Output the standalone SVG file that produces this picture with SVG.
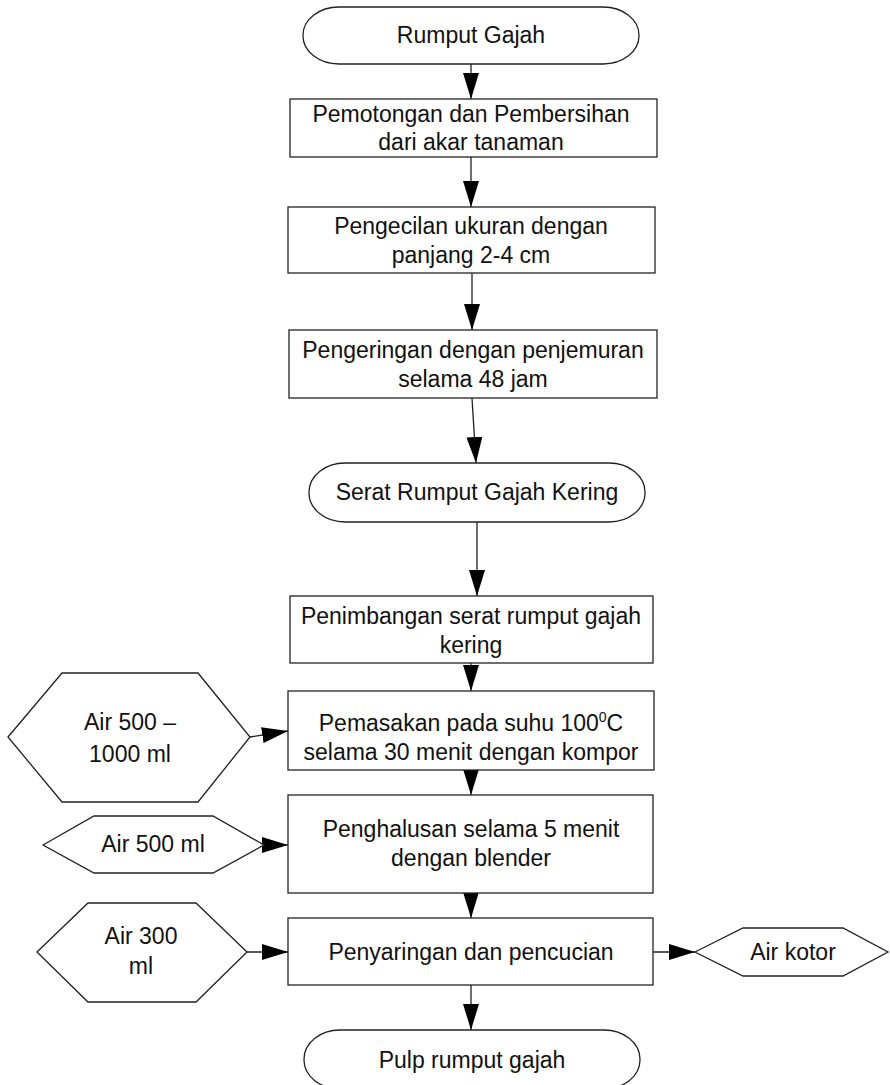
<svg xmlns="http://www.w3.org/2000/svg" width="890" height="1085" viewBox="0 0 890 1085">
<style>
.s{fill:#fff;stroke:#222;stroke-width:1.3}
.t{font-family:"Liberation Sans",Arial,sans-serif;font-size:23px;fill:#111;text-anchor:middle}
.c{fill:none;stroke:#222;stroke-width:1.3}
</style>
<defs>
<marker id="ah" markerUnits="userSpaceOnUse" markerWidth="26" markerHeight="16" refX="26" refY="8" orient="auto">
<path d="M0,0 L26,8 L0,16 z" fill="#000"/>
</marker>
</defs>
<rect width="890" height="1085" fill="#fff"/>
<g id="connectors">
<line class="c" x1="471" y1="64" x2="471" y2="99" marker-end="url(#ah)"/>
<line class="c" x1="471" y1="157" x2="471" y2="207" marker-end="url(#ah)"/>
<line class="c" x1="472" y1="273" x2="472" y2="330" marker-end="url(#ah)"/>
<line class="c" x1="472" y1="398" x2="476" y2="463" marker-end="url(#ah)"/>
<line class="c" x1="477" y1="522" x2="477" y2="596" marker-end="url(#ah)"/>
<line class="c" x1="471" y1="663" x2="471" y2="691" marker-end="url(#ah)"/>
<line class="c" x1="250" y1="737" x2="288" y2="731" marker-end="url(#ah)"/>
<line class="c" x1="471" y1="770" x2="471" y2="795" marker-end="url(#ah)"/>
<line class="c" x1="264" y1="845" x2="288" y2="845" marker-end="url(#ah)"/>
<line class="c" x1="471" y1="893" x2="471" y2="918" marker-end="url(#ah)"/>
<line class="c" x1="247" y1="952" x2="288" y2="952" marker-end="url(#ah)"/>
<line class="c" x1="653" y1="952" x2="695" y2="952" marker-end="url(#ah)"/>
<line class="c" x1="471" y1="985" x2="471" y2="1030" marker-end="url(#ah)"/>
</g>
<g id="n1"><rect class="s" x="303" y="7" width="336" height="57" rx="36" ry="28"/><text class="t" x="471" y="43">Rumput Gajah</text></g>
<g id="n2"><rect class="s" x="290" y="99" width="367" height="58"/><text class="t" x="471" y="122">Pemotongan dan Pembersihan</text><text class="t" x="471" y="150">dari akar tanaman</text></g>
<g id="n3"><rect class="s" x="288" y="207" width="367" height="66"/><text class="t" x="471" y="234">Pengecilan ukuran dengan</text><text class="t" x="471" y="263">panjang 2-4 cm</text></g>
<g id="n4"><rect class="s" x="289" y="330" width="368" height="68"/><text class="t" x="473" y="358">Pengeringan dengan penjemuran</text><text class="t" x="473" y="387">selama 48 jam</text></g>
<g id="n5"><rect class="s" x="309" y="463" width="336" height="59" rx="36" ry="29"/><text class="t" x="477" y="500">Serat Rumput Gajah Kering</text></g>
<g id="n6"><rect class="s" x="290" y="596" width="363" height="67"/><text class="t" x="471" y="624">Penimbangan serat rumput gajah</text><text class="t" x="471" y="653">kering</text></g>
<g id="n7"><polygon class="s" points="8,737 62,673 198,673 250,737 198,802 62,802"/><text class="t" x="130" y="730">Air 500 –</text><text class="t" x="130" y="762">1000 ml</text></g>
<g id="n8"><rect class="s" x="288" y="691" width="366" height="79"/><text class="t" x="471" y="731">Pemasakan pada suhu 100<tspan font-size="14" dy="-9">0</tspan><tspan dy="9">C</tspan></text><text class="t" x="471" y="760">selama 30 menit dengan kompor</text></g>
<g id="n9"><polygon class="s" points="43,845 94,816 213,816 264,845 213,873 94,873"/><text class="t" x="153" y="852">Air 500 ml</text></g>
<g id="n10"><rect class="s" x="288" y="795" width="365" height="98"/><text class="t" x="471" y="837">Penghalusan selama 5 menit</text><text class="t" x="471" y="866">dengan blender</text></g>
<g id="n11"><polygon class="s" points="37,952 88,903 196,903 247,952 196,1002 88,1002"/><text class="t" x="141" y="944">Air 300</text><text class="t" x="141" y="974">ml</text></g>
<g id="n12"><rect class="s" x="288" y="918" width="365" height="67"/><text class="t" x="471" y="960">Penyaringan dan pencucian</text></g>
<g id="n13"><polygon class="s" points="695,952 743,928 843,928 888,952 843,976 743,976"/><text class="t" x="793" y="960">Air kotor</text></g>
<g id="n14"><rect class="s" x="304" y="1030" width="336" height="59" rx="36" ry="29"/><text class="t" x="472" y="1068">Pulp rumput gajah</text></g>
</svg>
